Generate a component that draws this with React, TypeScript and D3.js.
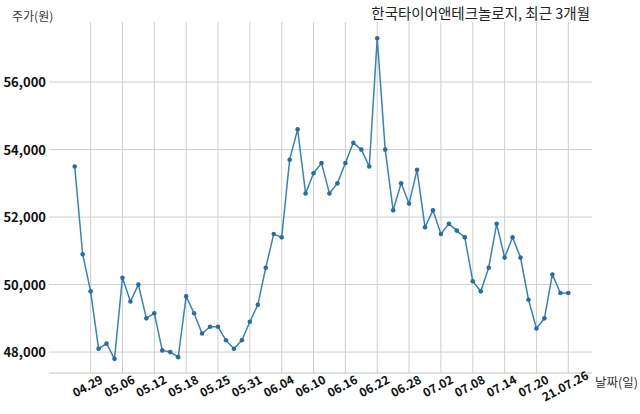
import * as d3 from 'd3';

const dates = [
  '04.27', '04.28', '04.29', '04.30', '05.03', '05.04', '05.06', '05.07', '05.10', '05.11',
  '05.12', '05.13', '05.14', '05.17', '05.18', '05.20', '05.21', '05.24', '05.25', '05.26',
  '05.27', '05.28', '05.31', '06.01', '06.02', '06.03', '06.04', '06.07', '06.08', '06.09',
  '06.10', '06.11', '06.14', '06.15', '06.16', '06.17', '06.18', '06.21', '06.22', '06.23',
  '06.24', '06.25', '06.28', '06.29', '06.30', '07.01', '07.02', '07.05', '07.06', '07.07',
  '07.08', '07.09', '07.12', '07.13', '07.14', '07.15', '07.16', '07.19', '07.20', '07.21',
  '07.22', '07.23', '07.26',
];

const prices = [
  53500, 50900, 49800, 48100, 48250, 47800, 50200, 49500, 50000, 49000,
  49150, 48050, 48000, 47850, 49650, 49150, 48550, 48750, 48750, 48350,
  48100, 48350, 48900, 49400, 50500, 51500, 51400, 53700, 54600, 52700,
  53300, 53600, 52700, 53000, 53600, 54200, 54000, 53500, 57300, 54000,
  52200, 53000, 52400, 53400, 51700, 52200, 51500, 51800, 51600, 51400,
  50100, 49800, 50500, 51800, 50800, 51400, 50800, 49550, 48700, 49000,
  50300, 49750, 49750,
];

const tickDates = [
  '04.29', '05.06', '05.12', '05.18', '05.25', '05.31', '06.04', '06.10',
  '06.16', '06.22', '06.28', '07.02', '07.08', '07.14', '07.20', '07.26',
];
const tickLabels = [
  '04.29', '05.06', '05.12', '05.18', '05.25', '05.31', '06.04', '06.10',
  '06.16', '06.22', '06.28', '07.02', '07.08', '07.14', '07.20', '21.07.26',
];
const yTicks = [48000, 50000, 52000, 54000, 56000];

const title = '한국타이어앤테크놀로지, 최근 3개월';
const yTitle = '주가(원)';
const xTitle = '날짜(일)';

const width = 640;
const height = 414;
const plot = { left: 49, right: 592, top: 22, bottom: 373 };
const font = '"Noto Sans CJK KR", "Noto Sans", sans-serif';

export default function App() {
  const x = d3.scalePoint<string>().domain(dates).range([74.7, 568.3]);
  const y = d3.scaleLinear().domain([47380, 57780]).range([plot.bottom, plot.top]);

  const pts = dates.map((d, i) => ({ date: d, value: prices[i] }));
  const line = d3
    .line<{ date: string; value: number }>()
    .x(d => x(d.date)!)
    .y(d => y(d.value));

  const fmt = d3.format(',');

  return (
    <svg
      width={width}
      height={height}
      style={{ position: 'absolute', left: 0, top: 0, background: '#fff' }}
      fontFamily={font}
    >
      {/* grid */}
      {yTicks.map(t => (
        <line key={t} x1={plot.left} x2={plot.right} y1={y(t)} y2={y(t)} stroke="#cfcfcf" strokeWidth={1} />
      ))}
      {tickDates.map(t => (
        <line key={t} x1={x(t)} x2={x(t)} y1={plot.top} y2={plot.bottom} stroke="#cfcfcf" strokeWidth={1} />
      ))}
      <line x1={plot.left} x2={plot.right} y1={plot.bottom} y2={plot.bottom} stroke="#c4c4c4" strokeWidth={1.2} />

      {/* y labels */}
      {yTicks.map(t => (
        <text key={t} x={46} y={y(t) + 5} textAnchor="end" fontSize={13} fontWeight={600} fill="#111">
          {fmt(t)}
        </text>
      ))}

      {/* x labels */}
      {tickDates.map((t, i) => (
        <text
          key={t}
          transform={`translate(${x(t)! - 1},${plot.bottom + 17}) rotate(-28)`}
          textAnchor="middle"
          fontSize={12}
          fontWeight={600}
          fill="#111"
        >
          {tickLabels[i]}
        </text>
      ))}

      {/* series */}
      <path d={line(pts) ?? ''} fill="none" stroke="#3584b8" strokeWidth={1.5} />
      {pts.map(p => (
        <circle key={p.date} cx={x(p.date)} cy={y(p.value)} r={2.3} fill="#2b6d9c" />
      ))}

      {/* titles */}
      <text x={590} y={19} textAnchor="end" fontSize={14.5} fill="#222">
        {title}
      </text>
      <text x={12} y={21} fontSize={12} fill="#333">
        {yTitle}
      </text>
      <text x={595} y={387} fontSize={12.5} fill="#333">
        {xTitle}
      </text>
    </svg>
  );
}
